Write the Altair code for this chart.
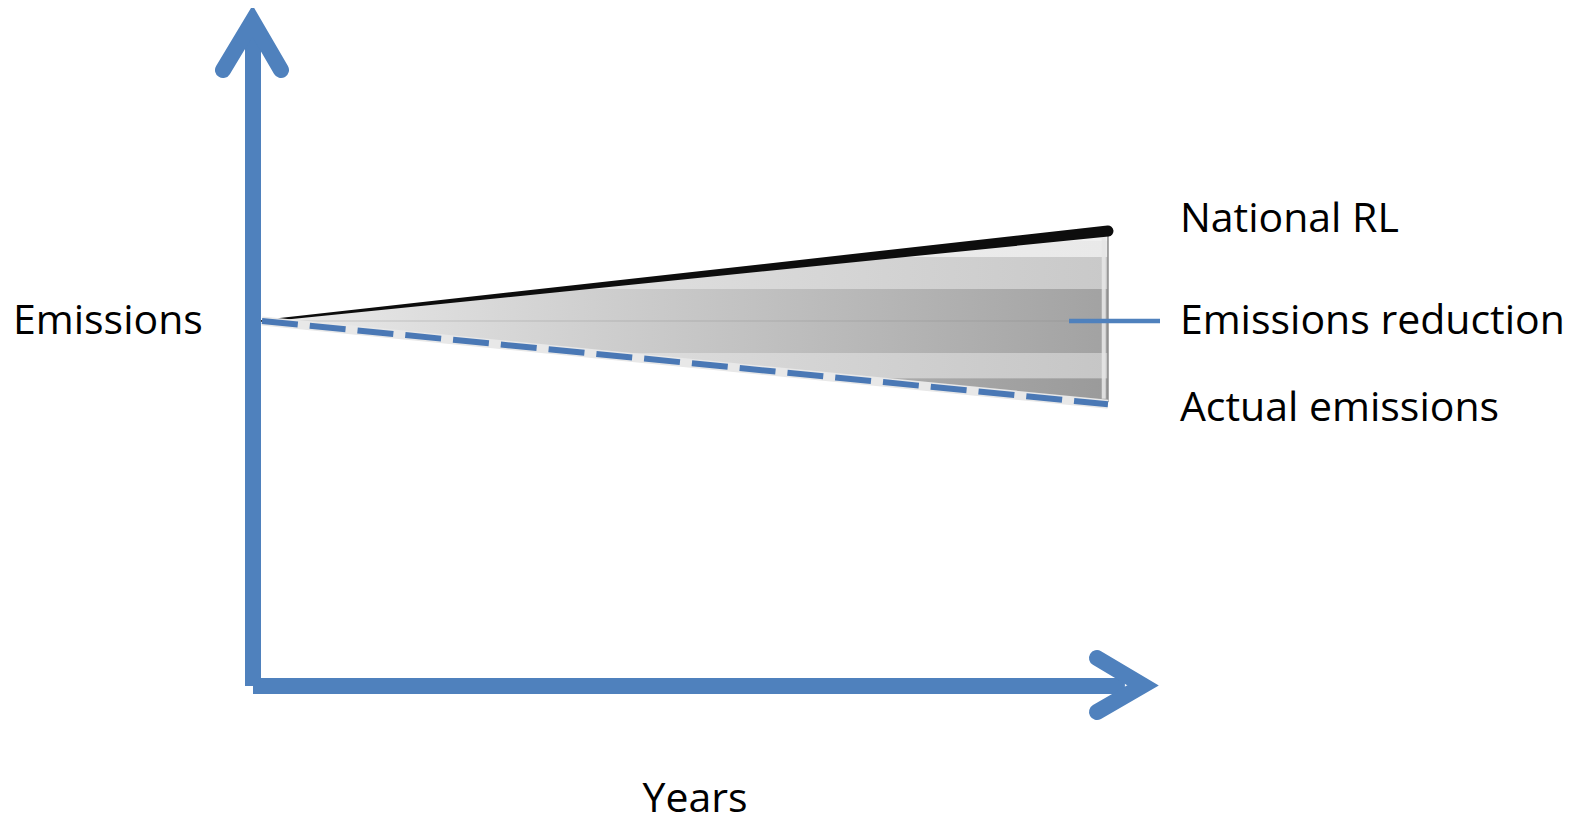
import altair as alt
import pandas as pd

# ---- conceptual data (year index, emission index) ----
years = [0, 10]
national_rl = [100, 120]
actual_emissions = [100, 81.5]

labels = ["National RL", "Emissions reduction", "Actual emissions"]
label_y = [122.4, 99.8, 80.5]
label_x = 10.85

axis_titles = ["Emissions", "Years"]
axis_title_x = [-2.943, 5.12]
axis_title_y = [99.8, -6.4]

BLUE = "#4F81BD"
FONT = "Open Sans"
FS = 41

X_DOMAIN = [-3.002, 15.544]
Y_DOMAIN = [-9.56, 169.56]
xs = alt.Scale(domain=X_DOMAIN, nice=False, zero=False)
ys = alt.Scale(domain=Y_DOMAIN, nice=False, zero=False)


def X(f="x"):
    return alt.X(f"{f}:Q", scale=xs, axis=None)


def Y(f="y"):
    return alt.Y(f"{f}:Q", scale=ys, axis=None)


def rl(t):
    return national_rl[0] + (national_rl[1] - national_rl[0]) * t / (years[1] - years[0])


def ae(t):
    return actual_emissions[0] + (actual_emissions[1] - actual_emissions[0]) * t / (years[1] - years[0])


def grad(c0, c1):
    return alt.Gradient(gradient="linear", x1=0, x2=1, y1=0, y2=0,
                        stops=[alt.GradientStop(color=c0, offset=0),
                               alt.GradientStop(color=c1, offset=1)])


layers = []

# base wedge
base_df = pd.DataFrame({"x": years, "top": national_rl, "bot": actual_emissions})
layers.append(alt.Chart(base_df).mark_area(color=grad("#eeeeee", "#b0b0b0")).encode(
    x=X(), y=Y("top"), y2="bot:Q"))

# horizontal shading bands inside the wedge
band_edges = [80, 87.3, 92.9, 107.1, 114.2, 117.8, 121]
band_colors = [("#dcdcdc", "#9a9a9a"), ("#eeeeee", "#c6c6c6"),
               ("#ececec", "#a2a2a2"), ("#efefef", "#c9c9c9"),
               ("#f4f4f4", "#e9e9e9"), ("#f0f0f0", "#efefef")]

for i in range(len(band_edges) - 1):
    lo, hi = band_edges[i], band_edges[i + 1]
    pts = {float(years[0]), float(years[1])}
    for v in (lo, hi):
        for f0, f1 in ((national_rl[0], national_rl[1]), (actual_emissions[0], actual_emissions[1])):
            if f1 != f0:
                t = (v - f0) / (f1 - f0) * years[1]
                if years[0] <= t <= years[1]:
                    pts.add(t)
    rows = []
    for t in sorted(pts):
        top = min(rl(t), hi)
        bot = max(ae(t), lo)
        if top < bot:
            top = bot
        rows.append({"x": t, "top": top, "bot": bot})
    c0, c1 = band_colors[i]
    layers.append(alt.Chart(pd.DataFrame(rows)).mark_area(color=grad(c0, c1)).encode(
        x=X(), y=Y("top"), y2="bot:Q"))

# faint centre line of the wedge
mid_df = pd.DataFrame({"x": years, "y": [100, 100]})
layers.append(alt.Chart(mid_df).mark_line(color="#888888", strokeWidth=1, opacity=0.35).encode(x=X(), y=Y()))

# right-edge bevel
edge_df = pd.DataFrame({"x": [9.95, 9.95], "y": [national_rl[1] - 0.8, actual_emissions[1] + 1.2]})
layers.append(alt.Chart(edge_df).mark_line(color="#e6e6e6", strokeWidth=4, opacity=0.9).encode(x=X(), y=Y()))
edge2_df = pd.DataFrame({"x": [10.0, 10.0], "y": [national_rl[1] - 0.8, actual_emissions[1] + 0.5]})
layers.append(alt.Chart(edge2_df).mark_line(color="#8a8a8a", strokeWidth=1.5).encode(x=X(), y=Y()))

# National RL: black line thickening to the right
rl_df = pd.DataFrame({"x": years, "y": national_rl, "w": [2, 11]})
layers.append(alt.Chart(rl_df).mark_trail(color="#0d0d0d").encode(
    x=X(), y=Y(), size=alt.Size("w:Q", scale=alt.Scale(domain=[0, 12], range=[0, 12]), legend=None)))

# Actual emissions: dashed blue line with light shadow
ae_df = pd.DataFrame({"x": years, "y": actual_emissions})
layers.append(alt.Chart(ae_df).mark_line(color="#e8e8e8", strokeWidth=9).encode(x=X(), y=Y()))
layers.append(alt.Chart(ae_df).mark_line(color="#4A78B5", strokeWidth=6, strokeDash=[36, 12]).encode(
    x=X(), y=Y()))

# axes ---------------------------------------------------------------
yaxis_df = pd.DataFrame({"x": [-0.106, -0.106], "y": [18.89, 164.0]})
xaxis_df = pd.DataFrame({"x": [-0.106, 10.2], "y": [18.89, 18.89]})
layers.append(alt.Chart(yaxis_df).mark_line(color=BLUE, strokeWidth=16).encode(x=X(), y=Y()))
layers.append(alt.Chart(xaxis_df).mark_line(color=BLUE, strokeWidth=16).encode(x=X(), y=Y()))

arrow_df = pd.DataFrame({
    "x": [-0.461, -0.112, 0.225, 9.870, 10.414, 9.870],
    "y": [155.78, 166.67, 155.78, 25.11, 19.0, 13.11],
    "g": ["v", "v", "v", "h", "h", "h"],
    "o": [0, 1, 2, 0, 1, 2],
})
layers.append(alt.Chart(arrow_df).mark_line(color=BLUE, strokeWidth=16, strokeCap="round",
                                             strokeJoin="miter").encode(
    x=X(), y=Y(), detail="g:N", order="o:Q"))

# leader line
leader_df = pd.DataFrame({"x": [9.54, 10.615], "y": [100, 100]})
layers.append(alt.Chart(leader_df).mark_line(color=BLUE, strokeWidth=4.5).encode(x=X(), y=Y()))

# texts --------------------------------------------------------------
lab_df = pd.DataFrame({"x": [label_x] * 3, "y": label_y, "t": labels})
layers.append(alt.Chart(lab_df).mark_text(align="left", baseline="middle", font=FONT, fontSize=FS,
                                          color="#000000").encode(x=X(), y=Y(), text="t:N"))
ax_df = pd.DataFrame({"x": axis_title_x, "y": axis_title_y, "t": axis_titles})
layers.append(alt.Chart(ax_df.iloc[[0]]).mark_text(align="left", baseline="middle", font=FONT, fontSize=FS,
                                                   color="#000000").encode(x=X(), y=Y(), text="t:N"))
layers.append(alt.Chart(ax_df.iloc[[1]]).mark_text(align="center", baseline="middle", font=FONT, fontSize=FS,
                                                   color="#000000").encode(x=X(), y=Y(), text="t:N"))

chart = alt.layer(*layers).properties(
    width=1569, height=806, padding=0, autosize="none", background="#ffffff",
).configure_view(stroke=None)

chart.save("out.html", embed_options={"renderer": "svg", "actions": False})
